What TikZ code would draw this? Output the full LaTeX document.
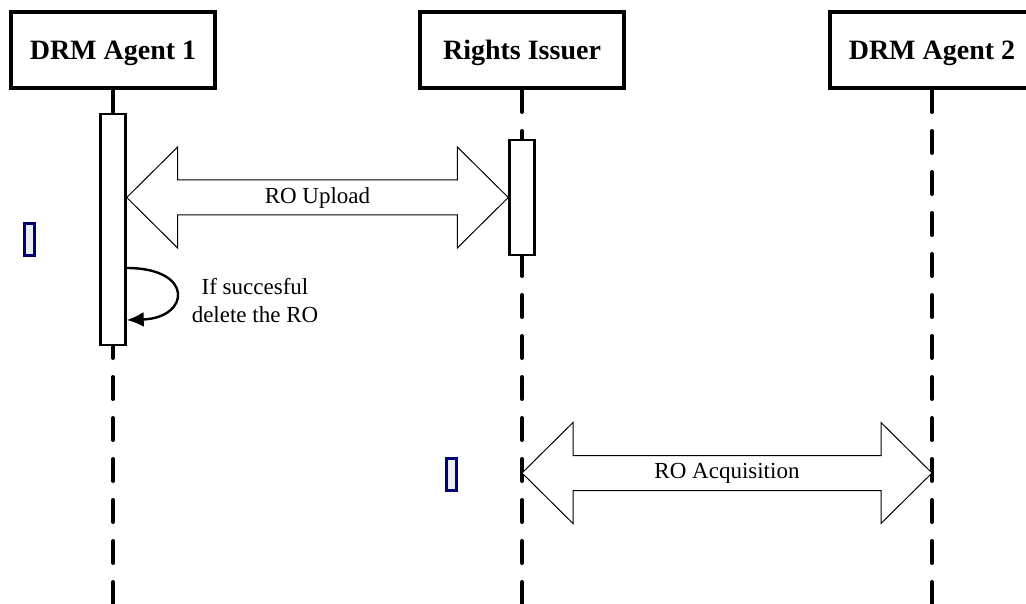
\documentclass[tikz,border=0pt]{standalone}
\usepackage{fontspec}
\setmainfont{Liberation Serif}
\usetikzlibrary{arrows.meta,calc,backgrounds}
\definecolor{navy}{RGB}{0,0,120}
\definecolor{paleblue}{RGB}{236,236,246}
\begin{document}
\begin{tikzpicture}[x=1pt,y=-1pt]
      \tikzstyle{actor}=[rectangle,draw,line width=4pt,fill=white,
        minimum width=204pt,minimum height=76pt,text depth=0pt,
        font=\fontsize{28}{32}\selectfont\bfseries]
      \tikzstyle{bar}=[rectangle,draw,line width=2.4pt,fill=white,
        minimum width=25pt,inner sep=0pt]
      \tikzstyle{tag}=[rectangle,draw=navy,line width=3pt,fill=paleblue,
        minimum width=10pt,minimum height=32pt,inner sep=0pt]
      \tikzstyle{lbl}=[font=\fontsize{23}{28}\selectfont]

      \useasboundingbox (0,0) rectangle (1026,604);

      \node[actor] (A1) at (113,50)  {DRM Agent 1};
      \node[actor] (RI) at (522,50)  {Rights Issuer};
      \node[actor] (A2) at (932,50)  {DRM Agent 2};

      \node[bar,minimum height=231pt] (b1) at (113,229.5) {};
      \node[bar,minimum height=115pt] (b2) at (522,197.5) {};

      \node[tag] (m1) at (29.5,239.5) {};
      \node[tag] (m2) at (451.5,474.5) {};

      \tikzstyle{life}=[line width=4pt,line cap=round,
        dash pattern=on 22pt off 19pt]
      \tikzstyle{big}=[line width=1pt,fill=white,line join=miter]
      \tikzstyle{self}=[-{Latex[length=17pt,width=15pt]},line width=2.4pt]

      \begin{scope}[on background layer]
        \draw[life] (A1.south) -- (A1.south |- 0,604);
        \draw[life] (RI.south) -- (RI.south |- 0,604);
        \draw[life] (A2.south) -- (A2.south |- 0,604);
      \end{scope}

      \coordinate (upL) at (b1.east |- b2.west);
      \coordinate (upR) at (b2.west);
      \draw[big] (upL) -- ++(51,-50.5) -- ++(0,33)
        -- ($(upR)+(-51,-17.5)$) -- ++(0,-33) -- (upR)
        -- ++(-51,50.5) -- ++(0,-33)
        -- ($(upL)+(51,17.5)$) -- ++(0,33) -- cycle;
      \node[lbl] (up) at ($(upL)!0.5!(upR)$) {RO Upload};

      \draw[self] (b1.east |- 0,268) .. controls (195,268) and (190,318)
        .. (b1.east |- 0,320);
      \node[lbl,align=center] (del) at (255,301)
        {If succesful\\delete the RO};

      \coordinate (acqL) at (RI.south |- 0,473);
      \coordinate (acqR) at (A2.south |- acqL);
      \draw[big] (acqL) -- ++(51,-50.5) -- ++(0,33)
        -- ($(acqR)+(-51,-17.5)$) -- ++(0,-33) -- (acqR)
        -- ++(-51,50.5) -- ++(0,-33)
        -- ($(acqL)+(51,17.5)$) -- ++(0,33) -- cycle;
      \node[lbl] (acq) at ($(acqL)!0.5!(acqR)$) {RO Acquisition};
    \end{tikzpicture}
\end{document}
